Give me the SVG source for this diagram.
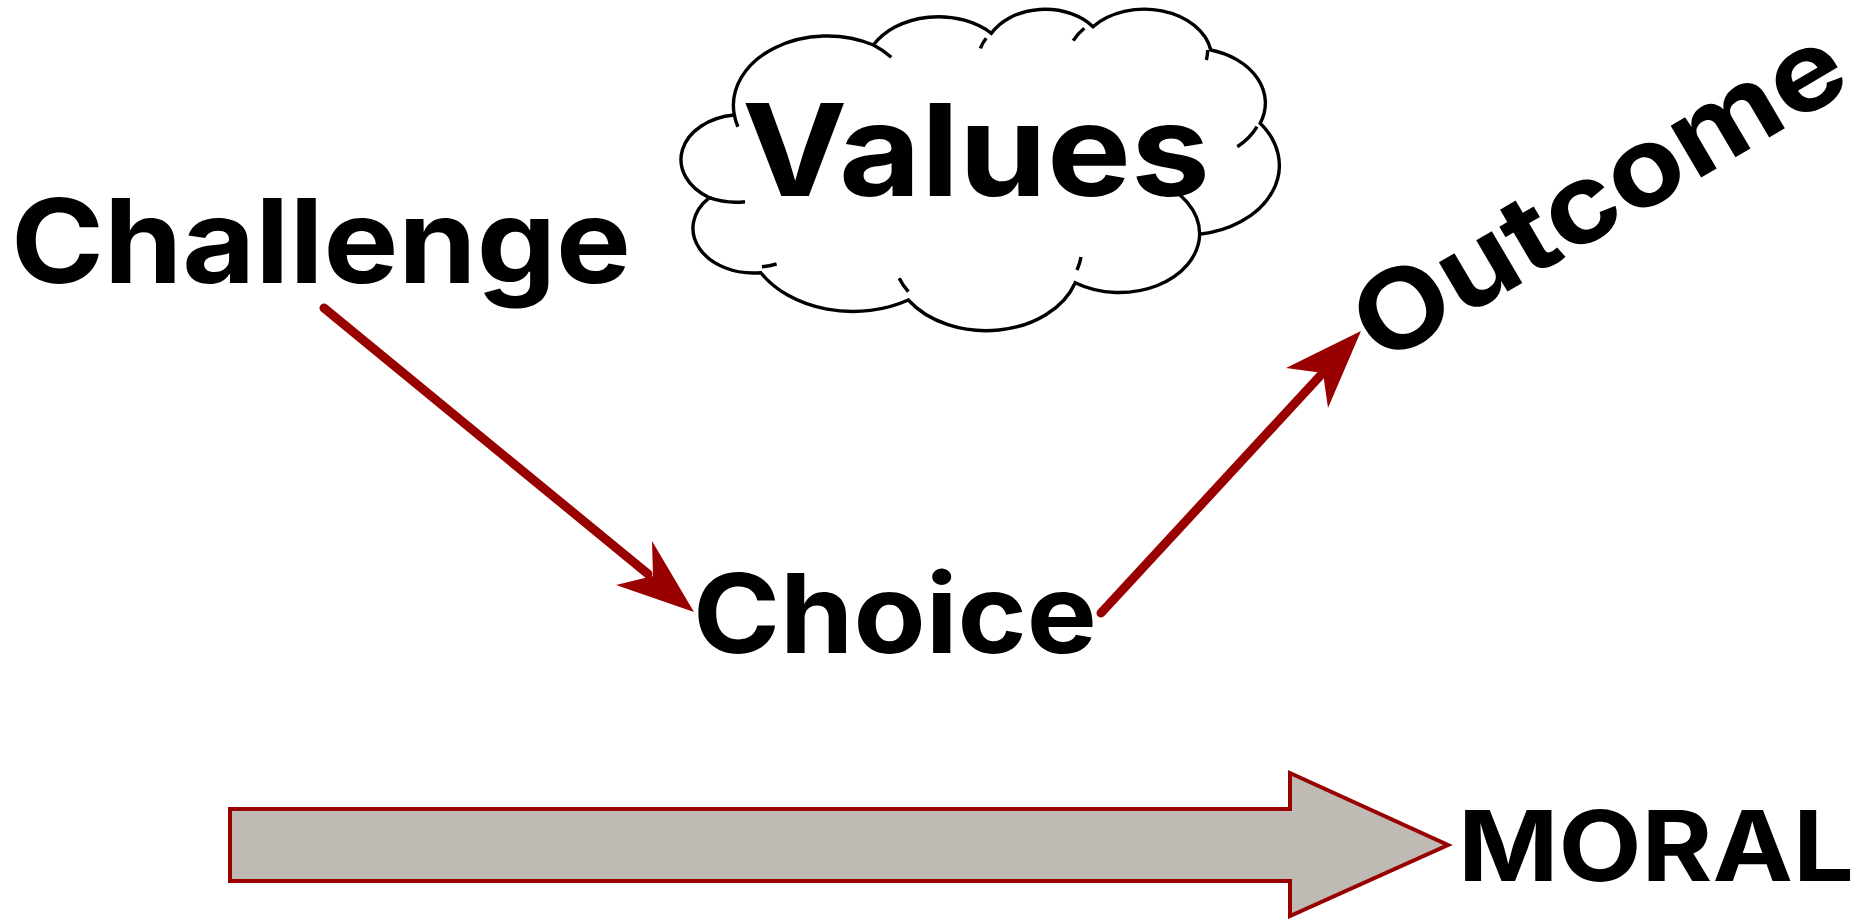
<svg xmlns="http://www.w3.org/2000/svg" width="1870" height="919" viewBox="0 0 1870 919">
<style>
.lbl{font-family:Inter,"Open Sans","DejaVu Sans",sans-serif;font-weight:700;fill:#000}
.cl{fill:none;stroke:#000;stroke-width:3.4}
.shaft{fill:none;stroke:#990000;stroke-width:9;stroke-linecap:round}
.head{fill:#990000;stroke:none}
</style>
<rect width="1870" height="919" fill="#fff"/>
<g id="values">
<path class="cl" fill="#fff" d="M734.3 115 A93.8 69.5 0 0 1 873.5 45 A74.1 54.9 0 0 1 991.4 33.3 A60.6 44.9 0 0 1 1093 26.7 A67.5 49.9 0 0 1 1210.8 50 A74.1 55 0 0 1 1260.2 123.3 A94.1 69.7 0 0 1 1199.7 234.3 A80.3 59.5 0 0 1 1075.2 282.7 A93.8 69.7 0 0 1 908.3 300 A107.2 79.7 0 0 1 760.8 272.7 A60.6 44.7 0 0 1 709.4 197.7 A60.3 44.9 0 0 1 734.3 115 Z"/>
<path class="cl" d="M745 201.7 A60.3 44.9 0 0 1 709.4 197.7 M776.6 264 A60.6 44.7 0 0 1 762 266.7 M908.3 291.7 A93.8 69.7 0 0 1 899.2 278.3 M1081 257 A93.8 69.7 0 0 1 1077 270 M1153 180.2 A80.3 59.5 0 0 1 1199.7 234.3 M1257 126.7 A74.1 55 0 0 1 1237.3 146.7 M1207.6 50 A67.5 49.9 0 0 1 1206.4 60 M1073.2 40.7 A67.5 49.9 0 0 1 1084.3 28.3 M980.3 48.3 A60.6 44.9 0 0 1 986.2 38.3 M873.5 45 A93.8 69.5 0 0 1 891.3 57.3 M737.9 126.7 A93.8 69.5 0 0 1 734.3 115"/>
<text class="lbl" x="742" y="196" font-size="128" textLength="468" lengthAdjust="spacingAndGlyphs">Values</text>
</g>
<g id="challenge">
<text class="lbl" x="11" y="283" font-size="117" textLength="620" lengthAdjust="spacingAndGlyphs">Challenge</text>
</g>
<g id="choice">
<text class="lbl" x="693" y="653" font-size="110" textLength="404" lengthAdjust="spacingAndGlyphs">Choice</text>
</g>
<g id="outcome">
<text class="lbl" x="1380.8" y="366.3" font-size="110" textLength="550" lengthAdjust="spacingAndGlyphs" transform="rotate(-30.5 1380.8 366.3)">Outcome</text>
</g>
<g id="moral">
<path d="M230 809 L1290 809 L1290 773 L1448 845 L1290 916 L1290 881 L230 881 Z" fill="#BFBBB4" stroke="#990000" stroke-width="4" stroke-linejoin="miter"/>
<text class="lbl" x="1458" y="881" font-size="97" textLength="396" lengthAdjust="spacingAndGlyphs">MORAL</text>
</g>
<g id="connectors">
<path class="shaft" d="M324 308 L648 574"/>
<polygon class="head" points="694,612 652,541 653,576 616,585"/>
<path class="shaft" d="M1101 613 L1320 376"/>
<polygon class="head" points="1361,331 1328,408 1323,373 1286,368"/>
</g>
</svg>
